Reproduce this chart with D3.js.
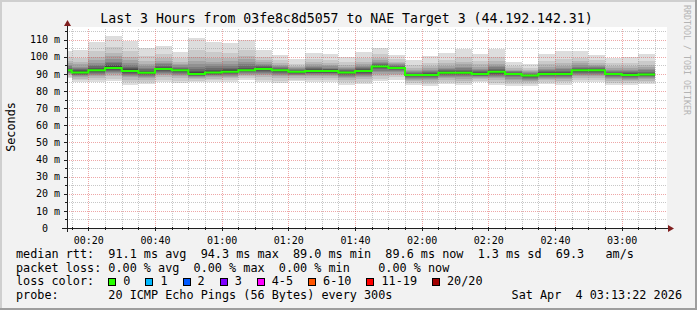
<!DOCTYPE html>
<html><head><meta charset="utf-8">
<script src="https://cdn.jsdelivr.net/npm/d3@7"></script>
<style>
html,body{margin:0;padding:0;background:#f2f2f2;}
svg{display:block;}
text{font-family:"DejaVu Sans Mono",monospace;}
text.pre{white-space:pre;}
</style></head><body>
<svg id="c" width="697" height="310"></svg>
<script>
// ---------------- data ----------------
const title = "Last 3 Hours from 03fe8c8d5057 to NAE Target 3 (44.192.142.31)";
const yAxisTitle = "Seconds";
const watermark = "RRDTOOL / TOBI OETIKER";
const timeStart = "00:13:36";
const timeEnd = "03:13:36";
const binStarts = ["00:10","00:15","00:20","00:25","00:30","00:35","00:40","00:45","00:50","00:55",
  "01:00","01:05","01:10","01:15","01:20","01:25","01:30","01:35","01:40","01:45","01:50","01:55",
  "02:00","02:05","02:10","02:15","02:20","02:25","02:30","02:35","02:40","02:45","02:50","02:55",
  "03:00","03:05"];
// median rtt per 5-minute step (ms)
const medians = [92.1,90.8,92.1,93.5,91.7,90.6,92.9,92.1,90.0,90.8,91.2,92.1,92.9,92.1,91.2,91.7,91.7,90.8,
  91.7,94.3,93.5,89.4,89.4,90.6,90.6,90.0,91.2,90.0,89.0,90.0,90.0,92.1,92.1,90.0,89.4,89.6];
// 20 sorted ping rtts per step (ms)
const pings = [
[87.5,88.4,89.3,89.9,90.4,90.8,91.2,91.5,91.8,92.0,92.3,92.7,93.1,93.7,94.4,95.2,96.2,97.5,99.6,103.4],
[85.0,86.2,87.2,88.0,88.7,89.2,89.6,90.1,90.4,90.7,91.1,91.5,92.0,92.6,93.4,94.3,95.5,97.0,99.4,103.8],
[85.0,86.4,87.7,88.7,89.5,90.1,90.7,91.2,91.6,92.0,92.4,92.9,93.6,94.4,95.4,96.6,98.1,100.1,103.1,108.7],
[85.6,87.2,88.6,89.7,90.6,91.3,91.9,92.5,93.0,93.3,93.9,94.4,95.2,96.1,97.2,98.5,100.2,102.4,105.7,112.0],
[83.7,85.3,86.7,87.9,88.7,89.5,90.1,90.7,91.1,91.5,92.1,92.6,93.3,94.2,95.2,96.4,98.0,100.1,103.3,109.2],
[84.0,85.3,86.5,87.4,88.2,88.8,89.3,89.7,90.1,90.5,90.9,91.3,91.9,92.6,93.5,94.5,95.8,97.6,100.2,105.1],
[85.0,86.6,88.0,89.1,90.0,90.7,91.3,91.9,92.3,92.7,93.2,93.6,94.1,94.8,95.5,96.5,97.7,99.2,101.6,106.1],
[84.6,86.1,87.5,88.5,89.3,90.0,90.6,91.1,91.6,92.0,92.3,92.6,93.1,93.6,94.2,94.9,95.9,97.1,99.0,102.6],
[85.0,86.0,86.9,87.6,88.2,88.6,89.0,89.4,89.7,89.9,90.4,91.0,91.9,92.9,94.2,95.6,97.5,100.0,103.7,110.8],
[85.0,86.2,87.2,88.0,88.7,89.2,89.6,90.1,90.4,90.7,91.2,91.7,92.4,93.3,94.4,95.6,97.2,99.4,102.6,108.7],
[85.0,86.2,87.4,88.2,88.9,89.5,90.0,90.4,90.8,91.1,91.5,92.1,92.7,93.6,94.6,95.8,97.3,99.3,102.4,108.1],
[86.5,87.6,88.6,89.4,90.0,90.5,91.0,91.4,91.7,92.0,92.5,93.0,93.7,94.6,95.7,96.9,98.5,100.7,103.9,110.0],
[85.0,86.6,88.0,89.1,90.0,90.7,91.3,91.9,92.3,92.7,93.1,93.5,93.9,94.4,95.1,95.8,96.8,98.1,100.1,103.8],
[84.6,86.1,87.5,88.5,89.3,90.0,90.6,91.1,91.6,92.0,92.3,92.5,92.9,93.3,93.9,94.5,95.3,96.3,97.9,100.9],
[85.6,86.7,87.7,88.5,89.1,89.6,90.1,90.5,90.8,91.1,91.4,91.6,91.9,92.2,92.7,93.2,93.8,94.7,96.0,98.5],
[85.0,86.3,87.5,88.5,89.2,89.8,90.4,90.8,91.2,91.6,91.9,92.2,92.7,93.2,93.8,94.5,95.5,96.7,98.6,102.2],
[85.0,86.3,87.5,88.5,89.2,89.8,90.4,90.8,91.2,91.6,91.9,92.2,92.6,93.1,93.7,94.4,95.2,96.4,98.2,101.5],
[83.7,85.1,86.4,87.4,88.2,88.8,89.4,89.9,90.3,90.7,91.0,91.3,91.6,92.1,92.6,93.3,94.1,95.2,96.9,100.0],
[84.0,85.5,86.9,88.0,88.9,89.5,90.2,90.7,91.2,91.5,91.9,92.3,92.7,93.3,93.9,94.7,95.7,97.0,99.0,102.8],
[85.6,87.3,88.9,90.1,91.1,91.9,92.6,93.2,93.7,94.1,94.5,94.8,95.3,95.8,96.5,97.2,98.2,99.5,101.4,105.1],
[86.5,87.9,89.2,90.1,90.9,91.5,92.1,92.6,93.0,93.4,93.7,93.9,94.2,94.5,95.0,95.5,96.2,97.1,98.4,100.9],
[83.3,84.5,85.6,86.5,87.1,87.7,88.2,88.6,89.0,89.3,89.6,89.8,90.2,90.6,91.1,91.7,92.5,93.5,95.1,98.0],
[82.7,84.0,85.3,86.2,86.9,87.5,88.1,88.5,88.9,89.3,89.6,90.0,90.4,90.9,91.6,92.3,93.3,94.6,96.6,100.3],
[84.0,85.3,86.5,87.4,88.2,88.8,89.3,89.7,90.1,90.5,90.8,91.2,91.6,92.2,92.9,93.7,94.8,96.2,98.3,102.2],
[83.3,84.8,86.1,87.1,87.9,88.6,89.1,89.7,90.1,90.5,90.9,91.3,91.8,92.5,93.4,94.3,95.6,97.2,99.7,104.4],
[85.0,86.0,86.9,87.6,88.2,88.6,89.0,89.4,89.7,89.9,90.2,90.6,91.0,91.6,92.3,93.1,94.1,95.5,97.6,101.5],
[83.3,84.9,86.3,87.4,88.3,89.0,89.6,90.2,90.6,91.0,91.5,91.9,92.4,93.1,93.8,94.8,96.0,97.5,99.9,104.4],
[82.7,84.2,85.5,86.5,87.3,88.0,88.5,89.1,89.5,89.9,90.1,90.4,90.6,91.0,91.4,91.9,92.5,93.4,94.6,97.0],
[82.7,84.0,85.1,86.0,86.7,87.2,87.7,88.2,88.6,88.9,89.1,89.4,89.6,90.0,90.4,90.9,91.5,92.4,93.6,96.0],
[84.0,85.2,86.3,87.1,87.8,88.3,88.8,89.2,89.6,89.9,90.2,90.6,91.0,91.6,92.3,93.1,94.1,95.5,97.6,101.5],
[83.7,85.0,86.1,87.0,87.7,88.2,88.7,89.2,89.6,89.9,90.3,90.7,91.2,91.9,92.6,93.6,94.8,96.3,98.7,103.2],
[85.0,86.4,87.7,88.7,89.5,90.1,90.7,91.2,91.6,92.0,92.3,92.7,93.1,93.7,94.3,95.1,96.1,97.4,99.4,103.2],
[85.0,86.4,87.7,88.7,89.5,90.1,90.7,91.2,91.6,92.0,92.3,92.5,92.9,93.3,93.9,94.5,95.3,96.3,97.9,100.9],
[83.3,84.6,85.9,86.8,87.5,88.1,88.7,89.1,89.5,89.9,90.2,90.5,90.8,91.3,91.9,92.5,93.4,94.5,96.1,99.3],
[83.7,84.8,85.9,86.7,87.3,87.8,88.3,88.7,89.0,89.3,89.6,89.9,90.4,90.9,91.5,92.2,93.2,94.4,96.3,99.9],
[84.0,85.1,86.1,86.9,87.5,88.0,88.5,88.9,89.2,89.5,89.8,90.2,90.7,91.3,92.0,92.8,93.9,95.3,97.5,101.5]
];
const yTicks = [0,10,20,30,40,50,60,70,80,90,100,110];
const yTickLabels = ["0","10 m","20 m","30 m","40 m","50 m","60 m","70 m","80 m","90 m","100 m","110 m"];
const xTickLabels = ["00:20","00:40","01:00","01:20","01:40","02:00","02:20","02:40","03:00"];
const legendRtt = "median rtt:  91.1 ms avg  94.3 ms max  89.0 ms min  89.6 ms now  1.3 ms sd  69.3   am/s";
const legendLoss = "packet loss: 0.00 % avg  0.00 % max  0.00 % min    0.00 % now";
const legendLossTitle = "loss color:";
const lossLabels = ["0","1","2","3","4-5","6-10","11-19","20/20"];
const lossColors = ["#26ff00","#00b8ff","#0059ff","#7e00ff","#ff00ff","#ff5500","#ff0000","#a10000"];
const legendProbe = "probe:       20 ICMP Echo Pings (56 Bytes) every 300s";
const legendDate = "Sat Apr  4 03:13:22 2026";

// ---------------- drawing ----------------
const W = 697, H = 310;
const svg = d3.select("#c");
const P = {l:67, r:667, t:28.5, b:228};
const smokeGrays = ["#dddddd","#cacaca","#b7b7b7","#a4a4a4","#919191","#7e7e7e","#6b6b6b","#585858","#454545","#323232"];
const tp = s => { const a = s.split(":").map(Number); return new Date(2026,3,4,a[0],a[1],a[2]||0); };

const x = d3.scaleTime().domain([tp(timeStart), tp(timeEnd)]).range([P.l, P.r]);
const y = d3.scaleLinear().domain([0,116.5]).range([P.b, P.t]);

// background + frame
svg.append("rect").attr("width",W).attr("height",H).attr("fill","#f2f2f2");
svg.append("path").attr("d",`M0,0H${W}V2H2V${H}H0Z`).attr("fill","#cfcfcf");
svg.append("path").attr("d",`M${W},0V${H}H0V${H-2}H${W-2}V0Z`).attr("fill","#9e9e9e");
svg.append("rect").attr("x",P.l).attr("y",27).attr("width",P.r-P.l).attr("height",P.b-27).attr("fill","#fff");

svg.append("defs").append("clipPath").attr("id","clip").append("rect")
  .attr("x",P.l).attr("y",P.t-2).attr("width",P.r-P.l).attr("height",P.b-P.t+2);

// smoke
const bins = binStarts.map((s,i)=>({t0:tp(s), t1:d3.timeMinute.offset(tp(s),5), p:pings[i], m:medians[i]}));
const smoke = svg.append("g").attr("clip-path","url(#clip)").attr("shape-rendering","crispEdges");
for (let k=0;k<10;k++){
  smoke.append("g").selectAll("rect").data(bins).join("rect")
    .attr("x",d=>x(d.t0)).attr("width",d=>x(d.t1)-x(d.t0))
    .attr("y",d=>y(d.p[19-k])).attr("height",d=>y(d.p[k])-y(d.p[19-k]))
    .attr("fill",smokeGrays[k]);
}

// grid
const grid = svg.append("g").attr("shape-rendering","crispEdges");
const minorX = d3.timeMinute.every(5).range(tp(timeStart), tp(timeEnd));
const majorX = xTickLabels.map(tp);
const isMajorX = t => t.getMinutes()%20===0;
grid.selectAll("line.mx").data(minorX.filter(t=>!isMajorX(t))).join("line")
  .attr("x1",d=>Math.round(x(d))+0.5).attr("x2",d=>Math.round(x(d))+0.5)
  .attr("y1",P.b).attr("y2",P.t).attr("stroke","rgba(143,143,143,0.5)").attr("stroke-dasharray","1,1");
const minorY = d3.range(5,116,5).filter(v=>v%10!==0);
grid.selectAll("line.my").data(minorY).join("line")
  .attr("x1",P.l).attr("x2",P.r).attr("y1",d=>Math.round(y(d))+0.5).attr("y2",d=>Math.round(y(d))+0.5)
  .attr("stroke","rgba(143,143,143,0.5)").attr("stroke-dasharray","1,1");
grid.selectAll("line.Mx").data(majorX).join("line")
  .attr("x1",d=>Math.round(x(d))+0.5).attr("x2",d=>Math.round(x(d))+0.5)
  .attr("y1",P.b).attr("y2",P.t).attr("stroke","rgba(222,80,80,0.5)").attr("stroke-dasharray","1,1");
grid.selectAll("line.My").data(yTicks.filter(v=>v>0)).join("line")
  .attr("x1",P.l).attr("x2",P.r).attr("y1",d=>Math.round(y(d))+0.5).attr("y2",d=>Math.round(y(d))+0.5)
  .attr("stroke","rgba(222,80,80,0.5)").attr("stroke-dasharray","1,1");

// median line
const medPts = [];
bins.forEach(d=>{ medPts.push([d.t0,d.m]); medPts.push([d.t1,d.m]); });
svg.append("path").attr("clip-path","url(#clip)")
  .attr("d", d3.line().x(d=>x(d[0])).y(d=>y(d[1])).curve(d3.curveLinear)(medPts))
  .attr("fill","none").attr("stroke","#26ff00").attr("stroke-width",2);

// axes
const axC = "#1f1f1f";
const xAx = svg.append("g").attr("transform",`translate(0,${P.b})`)
  .call(d3.axisBottom(x).tickValues(majorX).tickFormat(d3.timeFormat("%H:%M")).tickSize(0).tickPadding(9));
xAx.select(".domain").remove();
xAx.selectAll("text").attr("font-family","DejaVu Sans Mono").attr("font-size",10).attr("fill","#000");
const yAx = svg.append("g").attr("transform",`translate(${P.l},0)`)
  .call(d3.axisLeft(y).tickValues(yTicks).tickFormat((d,i)=>yTickLabels[i]).tickSize(0).tickPadding(7));
yAx.select(".domain").remove();
yAx.selectAll("text").attr("font-family","DejaVu Sans Mono").attr("font-size",10).attr("fill","#000")
  .attr("dx",(d,i)=>yTickLabels[i].indexOf(" ")<0 ? -12 : 0);

// tick marks
const tk = svg.append("g").attr("stroke",axC).attr("shape-rendering","crispEdges");
tk.selectAll("line.a").data(minorX).join("line")
  .attr("x1",d=>Math.round(x(d))+0.5).attr("x2",d=>Math.round(x(d))+0.5)
  .attr("y1",P.b-1).attr("y2",d=>P.b+(isMajorX(d)?3:2));
tk.selectAll("line.b").data(d3.range(5,116,5)).join("line")
  .attr("y1",d=>Math.round(y(d))+0.5).attr("y2",d=>Math.round(y(d))+0.5)
  .attr("x1",d=>P.l-(d%10===0?3:2)).attr("x2",P.l+1);
tk.append("line").attr("x1",62).attr("x2",670).attr("y1",P.b+0.5).attr("y2",P.b+0.5);
tk.append("line").attr("x1",P.l+0.5).attr("x2",P.l+0.5).attr("y1",P.b+4).attr("y2",22);
svg.append("path").attr("d",`M${P.l-3},26L${P.l+4},26L${P.l+0.5},20Z`).attr("fill","#801f1f");
svg.append("path").attr("d",`M668,${P.b-3}L668,${P.b+4}L674,${P.b+0.5}Z`).attr("fill","#801f1f");

// titles
svg.append("text").attr("x",346.5).attr("y",23).attr("text-anchor","middle")
  .attr("font-size",13.2).attr("fill","#000").text(title);
svg.append("text").attr("transform","translate(14.5,127) rotate(-90)").attr("text-anchor","middle")
  .attr("font-size",11.8).attr("fill","#000").text(yAxisTitle);
svg.append("text").attr("transform","translate(684,5) rotate(90)")
  .attr("font-size",8.3).attr("fill","#b4b4b4").text(watermark);

// legend
const lg = svg.append("g").attr("font-size",11.8).attr("fill","#000");
const ltext = (xx,yy,s) => lg.append("text").attr("class","pre").attr("xml:space","preserve")
  .attr("x",xx).attr("y",yy).text(s);
ltext(16,258.3,legendRtt);
ltext(16,271.7,legendLoss);
ltext(16,285.4,legendLossTitle);
ltext(16,299,legendProbe);
ltext(682,299,legendDate).attr("text-anchor","end");
let bx = 108.3;
lossLabels.forEach((lab,i)=>{
  lg.append("rect").attr("x",Math.round(bx)+0.5).attr("y",278.5).attr("width",7).attr("height",7)
    .attr("fill",lossColors[i]).attr("stroke","#000").attr("stroke-width",1);
  const t = ltext(bx+15,285.4,lab);
  bx = bx + 15 + t.node().getComputedTextLength() + 15;
});
</script>
</body></html>
